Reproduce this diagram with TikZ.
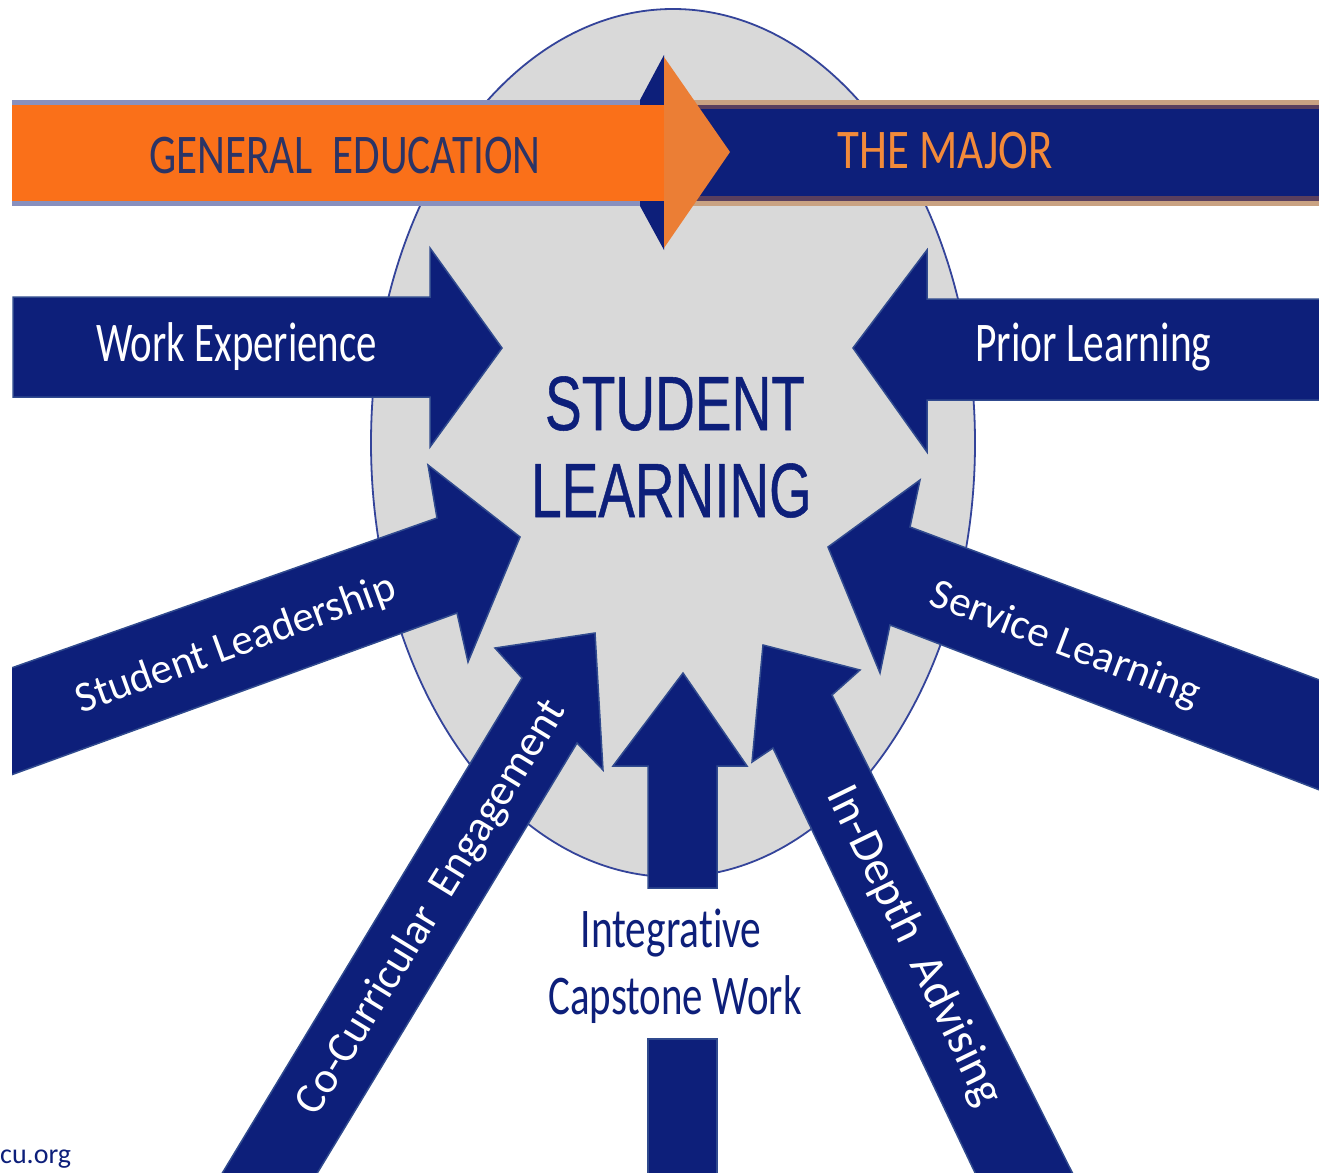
\documentclass[tikz,border=0pt]{standalone}
\usepackage{fontspec}
\usepackage{graphicx}
\setmainfont{Carlito}[Ligatures=NoCommon]
\newfontfamily\arialf{Liberation Sans}[FakeBold=0.7]
\definecolor{navy}{RGB}{13,31,122}
\definecolor{navyedge}{RGB}{48,74,142}
\definecolor{ellgrey}{RGB}{217,217,217}
\definecolor{elledge}{RGB}{52,68,154}
\definecolor{orangeband}{RGB}{250,112,25}
\definecolor{orangehead}{RGB}{235,126,53}
\definecolor{bandedge}{RGB}{136,144,190}
\definecolor{tanedge}{RGB}{201,162,130}
\definecolor{darkline}{RGB}{90,63,94}
\definecolor{gedtext}{RGB}{43,52,102}
\definecolor{majortext}{RGB}{242,138,58}
\begin{document}
\begin{tikzpicture}[x=1pt,y=-1pt,
  arrowshape/.style={fill=navy,draw=navyedge,line width=1.5pt,line join=miter},
  bandlabel/.style={inner sep=0pt,anchor=base,text=white,font=\fontsize{56}{60}\selectfont},
  diaglabel/.style={inner sep=0pt,anchor=center,text=white,font=\fontsize{43}{46}\selectfont},
  navylabel/.style={inner sep=0pt,anchor=base,text=navy,font=\fontsize{56}{60}\selectfont},
  biglabel/.style={inner sep=0pt,anchor=base,text=navy,font=\arialf\fontsize{76.8}{80}\selectfont}]
\useasboundingbox (0,0) rectangle (1319,1172);
\fill[white] (0,0) rectangle (1319,1172);
\begin{scope}
\clip (12,0) rectangle (1319,1172);
% central ellipse
\fill[ellgrey] (673,443) ellipse [x radius=302, y radius=434];
\draw[elledge,line width=1.8pt] (673,443) ellipse [x radius=302, y radius=434];
% Work Experience
\draw[arrowshape] (13,297) -- (430,297) -- (430,248) -- (502,348) -- (430,447) -- (430,397) -- (13,397) -- cycle;
% Prior Learning
\draw[arrowshape] (1330,299) -- (927,299) -- (927,250) -- (853,348) -- (927,452) -- (927,400) -- (1330,400) -- cycle;
% Student Leadership
\draw[arrowshape] (0,672) -- (437,518) -- (428,465) -- (520,537) -- (468,662) -- (457,613) -- (0,779) -- cycle;
% Service Learning
\draw[arrowshape] (1330,684) -- (910,527) -- (920,480) -- (828,547) -- (880,673) -- (890,625) -- (1330,794) -- cycle;
% Co-Curricular Engagement
\draw[arrowshape] (206,1200) -- (522,678) -- (495,648) -- (595,633) -- (603,770) -- (577,743) -- (301,1200) -- cycle;
% In-Depth Advising
\draw[arrowshape] (988,1200) -- (773,748) -- (752,762) -- (763,645) -- (860,670) -- (832,695) -- (1086,1200) -- cycle;
% Integrative Capstone Work
\draw[arrowshape] (648,888) -- (648,766) -- (613,766) -- (683,673) -- (747,766) -- (717,766) -- (717,888) -- cycle;
\draw[arrowshape] (648,1039) rectangle (717,1180);
% top band
\fill[bandedge] (12,100) rectangle (673,206);
\fill[navy] (664,55) -- (640,100) -- (640,206) -- (664,250) -- cycle;
\fill[orangeband] (12,105) rectangle (673,201);
\fill[tanedge] (675,100) rectangle (1330,206);
\fill[darkline] (675,105) rectangle (1330,201);
\fill[navy] (675,109) rectangle (1330,196);
\fill[orangehead] (664,57) -- (730,152) -- (664,248) -- cycle;
\end{scope}
% labels
\node[inner sep=0pt,anchor=base,text=gedtext,font=\fontsize{56}{60}\selectfont] (gened) at (345,173) {\scalebox{0.77}[1]{GENERAL\ \ EDUCATION}};
\node[inner sep=0pt,anchor=base,text=majortext,font=\fontsize{56}{60}\selectfont] (major) at (945,168) {\scalebox{0.8}[1]{THE MAJOR}};
\node[bandlabel] (work) at (236.5,361) {\scalebox{0.73}[1]{Work Experience}};
\node[bandlabel] (prior) at (1093.5,361) {\scalebox{0.74}[1]{Prior Learning}};
\node[biglabel] (student) at (675,430) {\scalebox{0.717}[1]{STUDENT}};
\node[biglabel] (learning) at (671.5,517) {\scalebox{0.715}[1]{LEARNING}};
\node[navylabel] (integrative) at (671,947) {\scalebox{0.74}[1]{Integrative}};
\node[navylabel] (capstone) at (675,1014) {\scalebox{0.73}[1]{Capstone Work}};
\node[diaglabel,rotate=20] (leadership) at (236,645) {Student Leadership};
\node[diaglabel,rotate=-21] (service) at (1065,645) {Service Learning};
\node[diaglabel,rotate=58.5,font=\fontsize{44}{46}\selectfont] (cocurr) at (432,908) {Co-Curricular\ \ Engagement};
\node[diaglabel,rotate=-64,font=\fontsize{47}{48}\selectfont] (advising) at (914,946) {In-Depth\ \ Advising};
\node[inner sep=0pt,anchor=base west,text=navy,font=\fontsize{28}{30}\selectfont] (url) at (0,1163) {cu.org};
\end{tikzpicture}
\end{document}
